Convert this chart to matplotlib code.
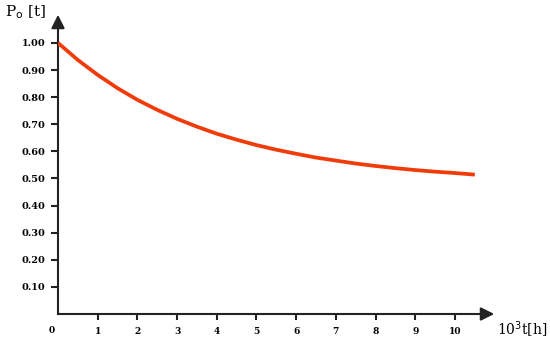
import matplotlib

matplotlib.use("Agg")
import matplotlib.pyplot as plt
from matplotlib.transforms import blended_transform_factory

# values
t_values = [0, 0.5, 1, 1.5, 2, 2.5, 3, 3.5, 4, 4.5, 5, 5.5,
            6, 6.5, 7, 7.5, 8, 8.5, 9, 9.5, 10, 10.5]
p_values = [1.000, 0.937, 0.882, 0.833, 0.790, 0.753, 0.720, 0.691, 0.665, 0.643, 0.623, 0.606,
            0.591, 0.577, 0.566, 0.555, 0.546, 0.538, 0.531, 0.525, 0.520, 0.514]
x_ticks = [1, 2, 3, 4, 5, 6, 7, 8, 9, 10]
y_ticks = [0.10, 0.20, 0.30, 0.40, 0.50, 0.60, 0.70, 0.80, 0.90, 1.00]

x_max = 11.06
y_max = 1.114
axis_color = "#222222"
curve_color = "#F03C0A"

fig = plt.figure(figsize=(5.5, 3.41), dpi=100)
ax = fig.add_axes([58 / 550, 27 / 341, 439 / 550, 302 / 341])

ax.plot(t_values, p_values, color=curve_color, lw=2.7, solid_capstyle="butt",
        solid_joinstyle="round", zorder=3)

ax.set_xlim(0, x_max)
ax.set_ylim(0, y_max)
for side in ("top", "right"):
    ax.spines[side].set_visible(False)
for side in ("left", "bottom"):
    ax.spines[side].set_color(axis_color)
    ax.spines[side].set_linewidth(1.5)
ax.spines["bottom"].set_bounds(0, x_max - 0.3)
ax.spines["left"].set_bounds(0, y_max - 0.05)

# arrow heads
ax.annotate("", xy=(x_max, 0), xytext=(x_max - 0.45, 0),
            arrowprops=dict(arrowstyle="-|>", color=axis_color, lw=1.5, mutation_scale=20),
            annotation_clip=False)
ax.annotate("", xy=(0, y_max), xytext=(0, y_max - 0.07),
            arrowprops=dict(arrowstyle="-|>", color=axis_color, lw=1.5, mutation_scale=20),
            annotation_clip=False)

ax.set_xticks(x_ticks)
ax.set_xticklabels([str(v) for v in x_ticks], fontfamily="DejaVu Serif",
                   fontweight="bold", fontsize=6.5)
ax.set_yticks(y_ticks)
ax.set_yticklabels([f"{v:.2f}" for v in y_ticks], fontfamily="DejaVu Serif",
                   fontweight="bold", fontsize=7)
ax.tick_params(axis="x", length=4, width=1.5, color=axis_color, pad=5)
ax.tick_params(axis="y", length=5, width=1.5, color=axis_color, pad=4)

trans = blended_transform_factory(ax.transData, ax.transAxes)
ax.text(-0.16, -0.056, "0", transform=trans, ha="center", va="center",
        fontfamily="DejaVu Serif", fontweight="bold", fontsize=6.5)

fig.text(5 / 550, 1 - 12 / 341, r"P$_\mathrm{o}$ [t]", ha="left", va="center",
         fontfamily="DejaVu Serif", fontsize=11)
fig.text(547 / 550, 1 - 330 / 341, r"10$^3$t[h]", ha="right", va="center",
         fontfamily="DejaVu Serif", fontsize=10)

fig.savefig("out.png", dpi=100)
